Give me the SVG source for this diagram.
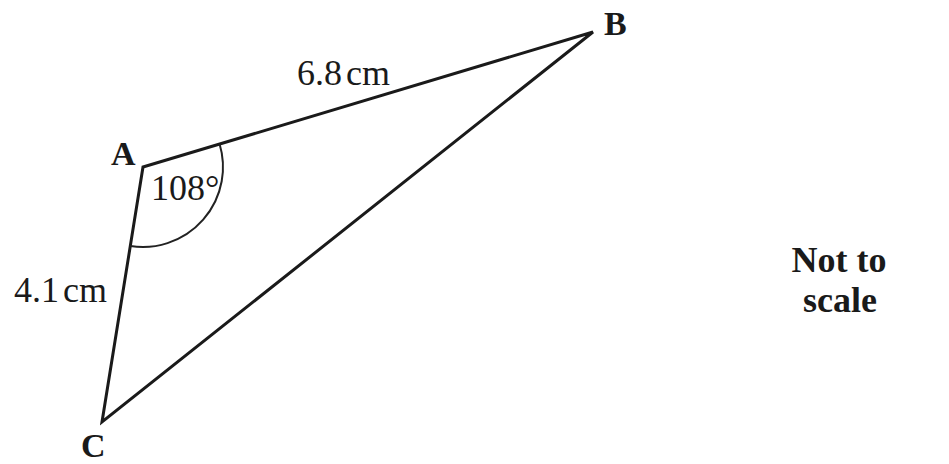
<svg xmlns="http://www.w3.org/2000/svg" width="949" height="464" viewBox="0 0 949 464">
<style>
.edge{fill:none;stroke:#1a1a1a;stroke-width:3;stroke-linejoin:miter}
.arc{fill:none;stroke:#222;stroke-width:2}
.lbl{font-family:"Liberation Serif","Times New Roman",serif;font-weight:bold;font-size:34px;fill:#1a1a1a}
.meas{font-family:"Liberation Serif","Times New Roman",serif;font-size:36px;fill:#1a1a1a}
.note{font-family:"Liberation Serif","Times New Roman",serif;font-weight:bold;font-size:36px;fill:#1a1a1a;text-anchor:middle}
</style>
<rect width="949" height="464" fill="#ffffff"/>
<g id="connectors">
<path class="edge" d="M143,167 L593,32 L102,422 Z"/>
<path class="arc" d="M219.6,144 A80,80 0 0 1 130.3,246"/>
</g>
<g id="A"><text class="lbl" x="111" y="165">A</text></g>
<g id="B"><text class="lbl" x="604" y="35">B</text></g>
<g id="C"><text class="lbl" x="81" y="457">C</text></g>
<g id="angle"><text class="meas" x="151" y="200">108°</text></g>
<g id="ab-length"><text class="meas" x="297" y="85">6.8<tspan dx="4">cm</tspan></text></g>
<g id="ac-length"><text class="meas" x="14" y="302">4.1<tspan dx="4">cm</tspan></text></g>
<g id="note"><text class="note" x="839" y="272">Not to</text><text class="note" x="840" y="312">scale</text></g>
</svg>
